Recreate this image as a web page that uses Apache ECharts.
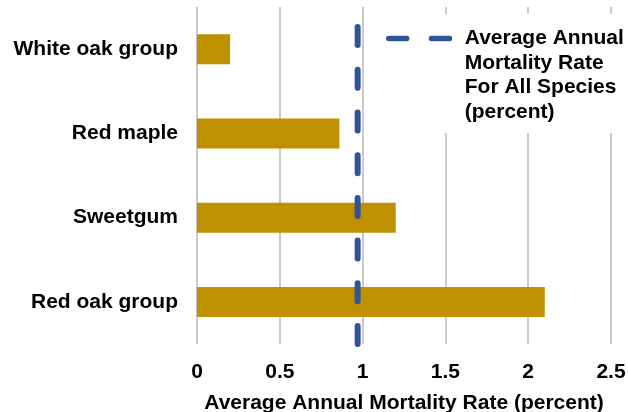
<!DOCTYPE html>
<html>
<head>
<meta charset="utf-8">
<script src="https://cdn.jsdelivr.net/npm/echarts@6/dist/echarts.min.js"></script>
<style>
  html, body { margin: 0; padding: 0; background: #fff; }
  #chart { width: 628px; height: 412px; }
</style>
</head>
<body>
<div id="chart"></div>
<script>
// Species groups, top to bottom
const species = ['White oak group', 'Red maple', 'Sweetgum', 'Red oak group'];
// Average annual mortality rate by species (percent)
const mortalityRate = [0.2, 0.86, 1.2, 2.1];
// Average annual mortality rate across all species (percent)
const allSpeciesAverage = 0.97;
const averageName = 'Average Annual\nMortality Rate\nFor All Species\n(percent)';
const xTicks = { min: 0, max: 2.5, interval: 0.5 };

const FONT = "'Liberation Sans', Arial, sans-serif";
const LINE_H = 24.5;
const chart = echarts.init(document.getElementById('chart'));

chart.setOption({
  animation: false,
  backgroundColor: '#fff',
  textStyle: { fontFamily: FONT },
  grid: { left: 197, right: 17, top: 7, bottom: 68, outerBoundsMode: 'none', containLabel: false },
  // white panel behind the legend, hiding the gridlines there
  graphic: [{
    type: 'rect', z: 1,
    shape: { x: 372, y: 14, width: 256, height: 119 },
    style: { fill: '#fff' }
  }],
  legend: {
    left: 386,
    top: 38.5 - 3.5 * LINE_H,
    padding: 0,
    itemWidth: 67,
    itemHeight: 14,
    itemGap: 0,
    lineStyle: { width: 5.5 },
    itemStyle: { opacity: 0 },
    // three leading blank lines keep the dash level with the first text line
    formatter: name => '\n\n\n' + name,
    textStyle: {
      fontFamily: FONT, fontSize: 21, fontWeight: 'bold', color: '#000',
      lineHeight: LINE_H, padding: [0, 0, 0, 4]
    },
    data: [averageName]
  },
  xAxis: {
    type: 'value',
    min: xTicks.min, max: xTicks.max, interval: xTicks.interval,
    axisLine: { show: false },
    axisTick: { show: false },
    splitLine: { show: true, lineStyle: { color: '#cacaca', width: 2 } },
    axisLabel: {
      margin: 18, color: '#000', fontSize: 21, fontWeight: 'bold', fontFamily: FONT
    },
    name: 'Average Annual Mortality Rate (percent)',
    nameLocation: 'middle',
    nameGap: 49,
    nameTextStyle: { color: '#000', fontSize: 21, fontWeight: 'bold', fontFamily: FONT }
  },
  yAxis: [{
    type: 'category',
    inverse: true,
    data: species,
    axisLine: { show: false },
    axisTick: { show: false },
    axisLabel: {
      margin: 19, color: '#000', fontSize: 21, fontWeight: 'bold', fontFamily: FONT
    }
  }, {
    type: 'value', min: 0, max: 1, show: false
  }],
  series: [{
    type: 'bar',
    data: mortalityRate,
    barWidth: 30,
    itemStyle: { color: '#BF9000' },
    z: 2
  }, {
    name: averageName,
    type: 'line',
    yAxisIndex: 1,
    data: [[allSpeciesAverage, 0], [allSpeciesAverage, 1]],
    symbol: 'none',
    lineStyle: { color: '#2F5597', width: 6, type: [18, 24.7], cap: 'round' },
    z: 3
  }]
});
</script>
</body>
</html>
